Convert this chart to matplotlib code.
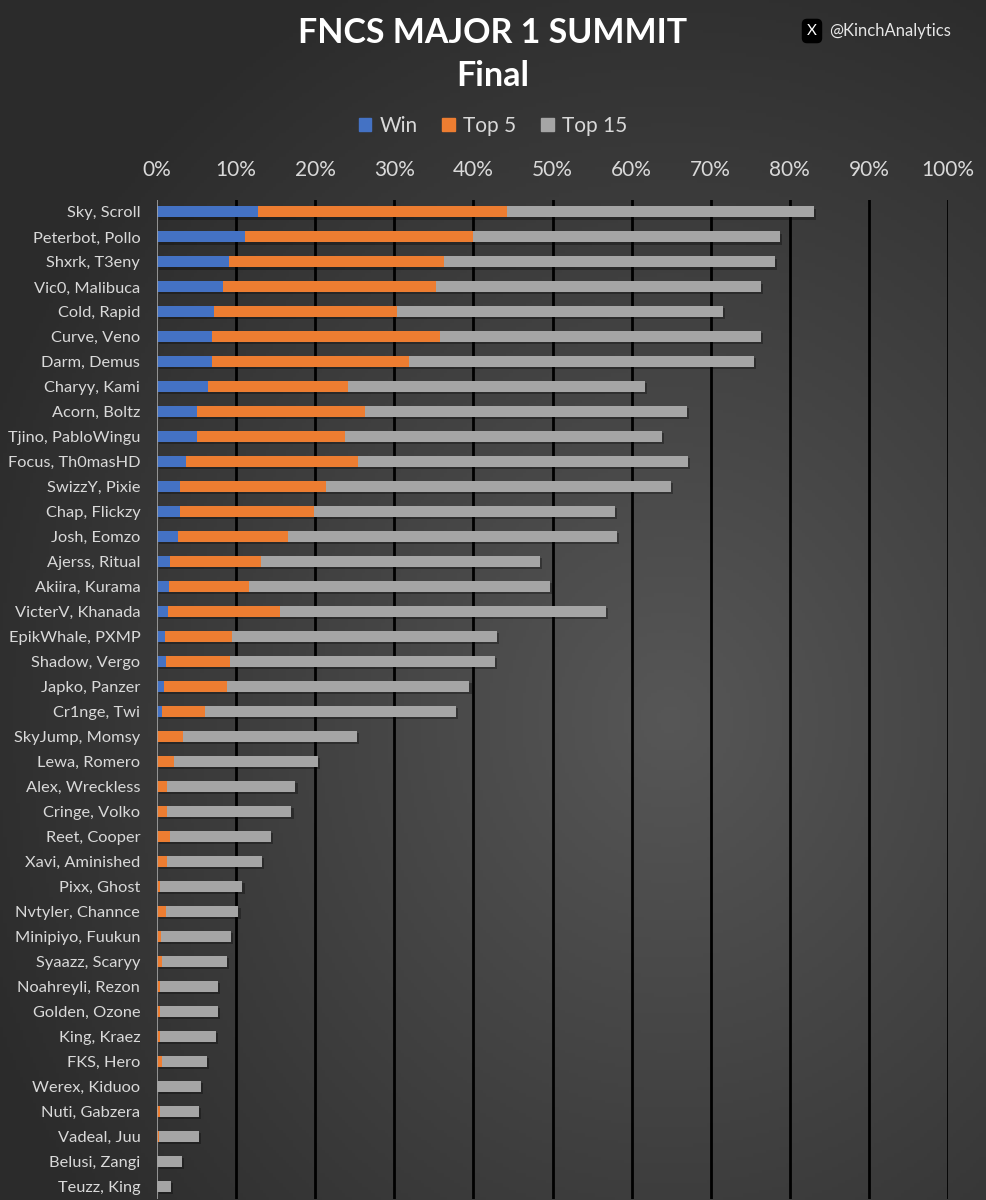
import matplotlib
matplotlib.use('Agg')
import matplotlib.pyplot as plt
import matplotlib.patheffects as pe
from matplotlib.patches import Patch
import numpy as np


PLAYERS = [
    'Sky, Scroll', 'Peterbot, Pollo', 'Shxrk, T3eny', 'Vic0, Malibuca', 'Cold, Rapid',
    'Curve, Veno', 'Darm, Demus', 'Charyy, Kami', 'Acorn, Boltz', 'Tjino, PabloWingu',
    'Focus, Th0masHD', 'SwizzY, Pixie', 'Chap, Flickzy', 'Josh, Eomzo', 'Ajerss, Ritual',
    'Akiira, Kurama', 'VicterV, Khanada', 'EpikWhale, PXMP', 'Shadow, Vergo', 'Japko, Panzer',
    'Cr1nge, Twi', 'SkyJump, Momsy', 'Lewa, Romero', 'Alex, Wreckless', 'Cringe, Volko',
    'Reet, Cooper', 'Xavi, Aminished', 'Pixx, Ghost', 'Nvtyler, Channce', 'Minipiyo, Fuukun',
    'Syaazz, Scaryy', 'Noahreyli, Rezon', 'Golden, Ozone', 'King, Kraez', 'FKS, Hero',
    'Werex, Kiduoo', 'Nuti, Gabzera', 'Vadeal, Juu', 'Belusi, Zangi', 'Teuzz, King',
]

# probabilities in percent
WIN = [
    12.8, 11.1, 9.1, 8.3, 7.2, 7.0, 7.0, 6.5, 5.1, 5.1,
    3.7, 2.9, 2.9, 2.6, 1.6, 1.5, 1.35, 1.0, 1.2, 0.85,
    0.6, 0, 0, 0, 0, 0, 0, 0, 0, 0,
    0, 0, 0, 0, 0, 0, 0, 0, 0, 0,
]
TOP5 = [
    44.2, 39.9, 36.3, 35.3, 30.4, 35.8, 31.9, 24.1, 26.3, 23.8,
    25.4, 21.4, 19.8, 16.5, 13.1, 11.6, 15.6, 9.5, 9.2, 8.8,
    6.1, 3.3, 2.1, 1.25, 1.25, 1.6, 1.25, 0.35, 1.15, 0.55,
    0.6, 0.4, 0.4, 0.4, 0.65, 0, 0.4, 0.3, 0, 0,
]
TOP15 = [
    83.0, 78.8, 78.1, 76.3, 71.5, 76.4, 75.5, 61.7, 67.0, 63.8,
    67.1, 65.0, 57.9, 58.2, 48.4, 49.7, 56.8, 43.0, 42.7, 39.5,
    37.8, 25.3, 20.4, 17.5, 17.0, 14.4, 13.3, 10.8, 10.3, 9.4,
    8.8, 7.7, 7.7, 7.5, 6.3, 5.6, 5.35, 5.3, 3.2, 1.75,
]

BLUE = '#4472C4'
ORANGE = '#ED7D31'
GRAY = '#A5A5A5'
TEXT = '#D9D9D9'


def main():
    plt.rcParams['font.family'] = ['Lato', 'DejaVu Sans']

    fig = plt.figure(figsize=(9.86, 12), dpi=100)

    # Background: soft gradient, darker towards the top-left
    bg = fig.add_axes([0, 0, 1, 1], zorder=-10)
    gx, gy = np.meshgrid(np.linspace(0, 1, 300), np.linspace(0, 1, 360))
    r = np.sqrt(((gx - 0.68) / 1.1) ** 2 + ((gy - 0.6) / 1.0) ** 2)
    shade = np.clip(0.34 - 0.25 * r, 0.17, 0.34)
    bg.imshow(np.dstack([shade] * 3), extent=[0, 1, 0, 1], aspect='auto', origin='upper')
    bg.set_axis_off()

    ax = fig.add_axes([157 / 986, 1.5 / 1200, 791 / 986, 999 / 1200])
    ax.set_facecolor('none')

    y = np.arange(len(PLAYERS))
    shadow = [pe.SimplePatchShadow(offset=(1.5, -1.5), shadow_rgbFace='black', alpha=0.3), pe.Normal()]
    h = 0.44
    ax.barh(y, TOP15, height=h, color=GRAY, zorder=3, path_effects=shadow)
    ax.barh(y, TOP5, height=h, color=ORANGE, zorder=4)
    ax.barh(y, WIN, height=h, color=BLUE, zorder=5)

    ax.set_xlim(0, 100)
    ax.set_ylim(len(PLAYERS) - 0.5, -0.5)

    for v in range(10, 101, 10):
        ax.axvline(v, color='black', lw=2.0, zorder=1)
    ax.axvline(0, color='#A6A6A6', lw=1.2, zorder=6)

    for s in ax.spines.values():
        s.set_visible(False)

    ax.xaxis.tick_top()
    ax.set_xticks(range(0, 101, 10))
    ax.set_xticklabels(['{}%'.format(v) for v in range(0, 101, 10)])
    ax.tick_params(axis='x', length=0, pad=14, labelsize=15, colors=TEXT)
    ax.set_yticks(y)
    ax.set_yticklabels(PLAYERS)
    ax.tick_params(axis='y', length=0, pad=12, labelsize=11.8, colors=TEXT)

    # Titles
    fig.text(0.5, 1 - 33 / 1200, 'FNCS MAJOR 1 SUMMIT', ha='center', va='center',
             fontsize=24.5, fontweight='bold', color='white')
    fig.text(0.5, 1 - 76 / 1200, 'Final', ha='center', va='center',
             fontsize=24.5, fontweight='bold', color='white')

    # Watermark
    fig.text(812 / 986, 1 - 31 / 1200, 'X', ha='center', va='center', fontsize=11,
             color='white', bbox=dict(boxstyle='round,pad=0.3', fc='black', ec='black'))
    fig.text(829 / 986, 1 - 31 / 1200, '@KinchAnalytics', ha='left', va='center',
             fontsize=12, color='#E6E6E6')

    handles = [Patch(color=BLUE, label='Win'), Patch(color=ORANGE, label='Top 5'),
               Patch(color=GRAY, label='Top 15')]
    fig.legend(handles=handles, loc='center', bbox_to_anchor=(0.5, 1 - 126 / 1200), ncol=3,
               frameon=False, fontsize=15, labelcolor=TEXT, handlelength=0.6, handleheight=0.6,
               handletextpad=0.4, columnspacing=1.2)

    fig.savefig('out.png', dpi=100)


if __name__ == '__main__':
    main()
